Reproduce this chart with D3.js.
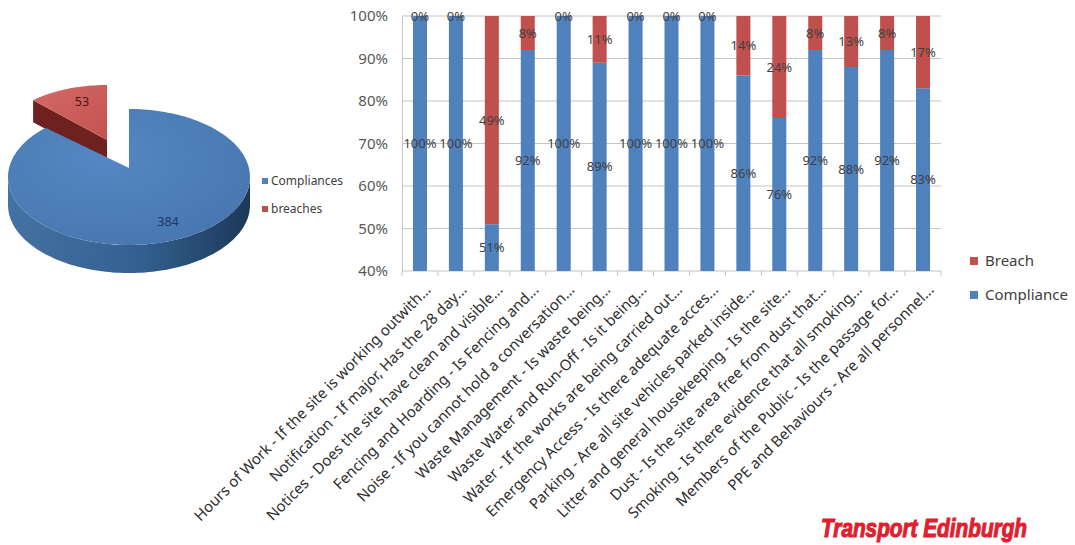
<!DOCTYPE html>
<html>
<head>
<meta charset="utf-8">
<script src="https://cdn.jsdelivr.net/npm/d3@7"></script>
<style>
  body { margin: 0; background: #fff; }
  svg { display: block; font-family: "Noto Sans", "Open Sans", sans-serif; }
</style>
</head>
<body>
<svg id="chart" width="1075" height="545"></svg>
<script>
// data
var categories = [
  "Hours of Work - If the site is working outwith...",
  "Notification - If major, Has the 28 day...",
  "Notices - Does the site have clean and visible...",
  "Fencing and Hoarding - Is Fencing and...",
  "Noise - If you cannot hold a conversation...",
  "Waste Management - Is  waste being...",
  "Waste Water and Run-Off - Is it being...",
  "Water - If the works are being carried out...",
  "Emergency Access - Is there adequate acces...",
  "Parking - Are all site vehicles parked inside...",
  "Litter and general housekeeping - Is the site...",
  "Dust - Is the site area free from dust that...",
  "Smoking - Is there evidence that all smoking...",
  "Members of the Public - Is the passage for...",
  "PPE and Behaviours - Are all personnel..."
];
var compliance = [100, 100, 51, 92, 100, 89, 100, 100, 100, 86, 76, 92, 88, 92, 83];
var breach     = [0, 0, 49, 8, 0, 11, 0, 0, 0, 14, 24, 8, 13, 8, 17];
var yTicks = [40, 50, 60, 70, 80, 90, 100];

var pieNames = ["Compliances", "breaches"];
var pieValues = [384, 53];

var blue = "#4f81bd", red = "#c0504d", txt = "#404040";

var svg = d3.select("#chart");
var defs = svg.append("defs");

// ---------- bar chart ----------
var x = d3.scaleBand().domain(d3.range(categories.length))
    .range([402, 941]).paddingInner(0.61).paddingOuter(0.305);
var y = d3.scaleLinear().domain([40, 100]).range([271, 16]);

var grid = svg.append("g");
grid.selectAll("line")
    .data(yTicks.slice(1))
    .enter().append("line")
    .attr("x1", 402).attr("x2", 941)
    .attr("y1", function(d) { return y(d); })
    .attr("y2", function(d) { return y(d); })
    .attr("stroke", "#c4c4c4").attr("stroke-width", 1);

svg.append("g")
    .attr("transform", "translate(402,0)")
    .call(d3.axisLeft(y).tickValues(yTicks).tickSize(0).tickPadding(14)
        .tickFormat(function(d) { return d + "%"; }))
    .call(function(g) {
        g.select(".domain").attr("stroke", "#c4c4c4");
        g.selectAll("text").attr("fill", "#595959")
            .style("font-size", "15px").style("font-family", "Noto Sans");
    });

// bottom axis with ticks at band boundaries
var bottom = svg.append("g");
bottom.append("line")
    .attr("x1", 402).attr("x2", 941).attr("y1", y(40)).attr("y2", y(40))
    .attr("stroke", "#c4c4c4");
bottom.selectAll(".tk")
    .data(d3.range(categories.length + 1))
    .enter().append("line")
    .attr("class", "tk")
    .attr("x1", function(i) { return x.range()[0] + i * x.step(); })
    .attr("x2", function(i) { return x.range()[0] + i * x.step(); })
    .attr("y1", y(40)).attr("y2", y(40) + 5)
    .attr("stroke", "#c4c4c4");

var bars = svg.append("g").selectAll("g")
    .data(categories)
    .enter().append("g");

bars.append("rect")
    .attr("x", function(d, i) { return x(i); })
    .attr("width", x.bandwidth())
    .attr("y", function(d, i) { return y(compliance[i]); })
    .attr("height", function(d, i) { return y(40) - y(compliance[i]); })
    .attr("fill", blue);

bars.append("rect")
    .attr("x", function(d, i) { return x(i); })
    .attr("width", x.bandwidth())
    .attr("y", y(100))
    .attr("height", function(d, i) { return y(compliance[i]) - y(100); })
    .attr("fill", red);

bars.append("text")
    .attr("x", function(d, i) { return x(i) + x.bandwidth() / 2; })
    .attr("y", function(d, i) { return y((40 + compliance[i]) / 2); })
    .attr("dy", "0.35em")
    .attr("text-anchor", "middle")
    .attr("fill", txt).style("font-size", "13px")
    .text(function(d, i) { return compliance[i] + "%"; });

bars.append("text")
    .attr("x", function(d, i) { return x(i) + x.bandwidth() / 2; })
    .attr("y", function(d, i) { return y((compliance[i] + 100) / 2); })
    .attr("dy", "0.35em")
    .attr("text-anchor", "middle")
    .attr("fill", txt).style("font-size", "13px")
    .text(function(d, i) { return breach[i] + "%"; });

// rotated category labels
svg.append("g").selectAll("text")
    .data(categories)
    .enter().append("text")
    .attr("transform", function(d, i) {
        return "translate(" + (x(i) + x.bandwidth() / 2 + 8) + "," + 287 + ") rotate(-45)";
    })
    .attr("dy", "0.35em")
    .attr("text-anchor", "end")
    .attr("fill", "#2e2e2e").style("font-size", "15px")
    .text(function(d) { return d; });

// bar legend
var barLegend = [{ name: "Breach", color: red }, { name: "Compliance", color: blue }];
var bl = svg.append("g").selectAll("g")
    .data(barLegend)
    .enter().append("g")
    .attr("transform", function(d, i) { return "translate(970," + (257 + i * 34) + ")"; });
bl.append("rect").attr("width", 8).attr("height", 8).attr("fill", function(d) { return d.color; });
bl.append("text").attr("x", 15).attr("y", 4).attr("dy", "0.35em")
    .attr("fill", txt).style("font-size", "15px")
    .text(function(d) { return d.name; });

// ---------- 3D pie ----------
var pieArcs = d3.pie().sort(null)(pieValues);
// per slice: apex, rim centre, radii, depth (the exploded slice sits further back)
var shapes = [
    { ax: 129, ay: 168, cx: 129, cy: 177, rx: 121, ry: 68, depth: 28,
      top: "url(#blueTop)", side: "url(#blueSide)", cut: "#2c5282" },
    { ax: 107, ay: 140, cx: 107, cy: 140, rx: 107, ry: 55, depth: 22,
      top: "url(#redTop)", side: "#6e211f", cut: "#6e211f" }
];

var bt = defs.append("radialGradient").attr("id", "blueTop")
    .attr("cx", "40%").attr("cy", "35%").attr("r", "70%");
bt.append("stop").attr("offset", "0%").attr("stop-color", "#5687c2");
bt.append("stop").attr("offset", "100%").attr("stop-color", "#4877b0");
var bs = defs.append("linearGradient").attr("id", "blueSide")
    .attr("gradientUnits", "userSpaceOnUse")
    .attr("x1", 8).attr("x2", 250).attr("y1", 0).attr("y2", 0);
bs.append("stop").attr("offset", "0%").attr("stop-color", "#4372a4");
bs.append("stop").attr("offset", "55%").attr("stop-color", "#33608f");
bs.append("stop").attr("offset", "100%").attr("stop-color", "#1c3858");
var rt = defs.append("linearGradient").attr("id", "redTop")
    .attr("x1", 0).attr("x2", 1).attr("y1", 0).attr("y2", 1);
rt.append("stop").attr("offset", "0%").attr("stop-color", "#d36a66");
rt.append("stop").attr("offset", "100%").attr("stop-color", "#c4524f");

function rim(s, a, dz) {
    return [s.cx + s.rx * Math.sin(a), s.cy - s.ry * Math.cos(a) + (dz || 0)];
}
function rimSamples(s, a0, a1, dz) {
    var n = Math.max(2, Math.ceil(Math.abs(a1 - a0) / 0.03));
    return d3.range(n + 1).map(function(k) { return rim(s, a0 + (a1 - a0) * k / n, dz); });
}
var line = d3.line();

var pie = svg.append("g");
// draw the exploded (back) slice first, then the big one
[1, 0].forEach(function(i) {
    var a = pieArcs[i], s = shapes[i];
    var g = pie.append("g");
    // outer wall, only the part facing the viewer
    var f0 = Math.max(a.startAngle, Math.PI / 2), f1 = Math.min(a.endAngle, 3 * Math.PI / 2);
    if (f1 > f0) {
        var pts = rimSamples(s, f0, f1, 0).concat(rimSamples(s, f1, f0, s.depth));
        g.append("path").attr("d", line(pts) + "Z").attr("fill", s.side);
    }
    // cut face at the start angle if it faces the viewer
    var sa = a.startAngle;
    if (sa > Math.PI && sa < 2 * Math.PI) {
        var p = rim(s, sa, 0), q = rim(s, sa, s.depth);
        g.append("path")
            .attr("d", line([[s.ax, s.ay], p, q, [s.ax, s.ay + s.depth]]) + "Z")
            .attr("fill", s.cut);
    }
    // top face
    var topPts = [[s.ax, s.ay]].concat(rimSamples(s, a.startAngle, a.endAngle, 0));
    g.append("path").attr("d", line(topPts) + "Z").attr("fill", s.top);
});

var pieLabelPos = [[168, 222], [82, 102]];
pie.selectAll(".plab")
    .data(pieArcs)
    .enter().append("text")
    .attr("class", "plab")
    .attr("x", function(d, i) { return pieLabelPos[i][0]; })
    .attr("y", function(d, i) { return pieLabelPos[i][1]; })
    .attr("dy", "0.35em")
    .attr("text-anchor", "middle")
    .attr("fill", function(d, i) { return i === 0 ? "#1f3864" : "#4a1515"; })
    .style("font-size", "12.5px")
    .text(function(d) { return d.value; });

// pie legend
var pl = svg.append("g").selectAll("g")
    .data(pieNames)
    .enter().append("g")
    .attr("transform", function(d, i) { return "translate(262," + (178 + i * 28) + ")"; });
pl.append("rect").attr("width", 6).attr("height", 6)
    .attr("fill", function(d, i) { return i === 0 ? blue : red; });
pl.append("text").attr("x", 9).attr("y", 3).attr("dy", "0.35em")
    .attr("fill", txt).style("font-size", "12px")
    .text(function(d) { return d; });

// logo text
svg.append("text")
    .attr("x", 821).attr("y", 537)
    .attr("textLength", 206).attr("lengthAdjust", "spacingAndGlyphs")
    .attr("fill", "#e0202e").attr("stroke", "#e0202e").attr("stroke-width", 1.1)
    .style("font-family", "Liberation Sans").style("font-weight", "bold")
    .style("font-style", "italic").style("font-size", "25px")
    .text("Transport Edinburgh");
</script>
</body>
</html>
